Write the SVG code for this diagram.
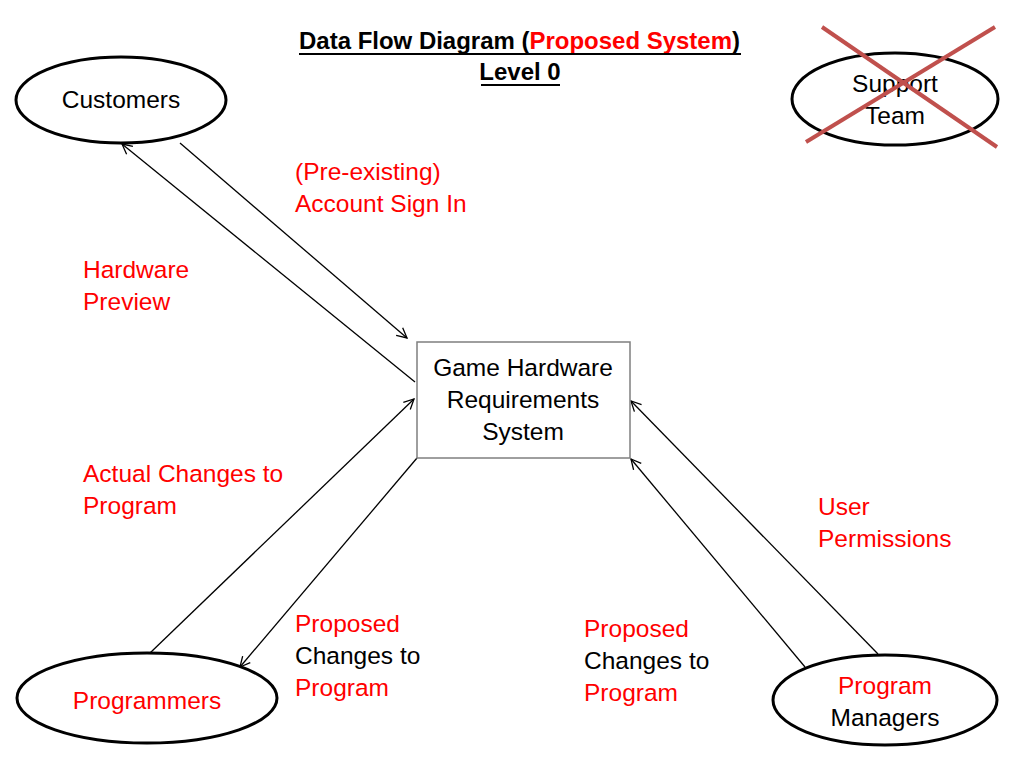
<svg xmlns="http://www.w3.org/2000/svg" width="1021" height="768" viewBox="0 0 1021 768">
<style>
.t{font-family:"Liberation Sans",Arial,sans-serif;font-size:24.5px;fill:#000}
.r{fill:#ff0000}
.c{text-anchor:middle}
.b{font-weight:bold;font-size:24px}
.ell{fill:#fff;stroke:#000;stroke-width:3}
.conn{stroke:#000;stroke-width:1.3;fill:none;marker-end:url(#ah)}
</style>
<defs>
<marker id="ah" viewBox="0 0 12 12" refX="11" refY="6" markerWidth="12" markerHeight="12" markerUnits="userSpaceOnUse" orient="auto">
<path d="M1,1 L11,6 L1,11" fill="none" stroke="#000" stroke-width="1.3"/>
</marker>
</defs>
<rect width="1021" height="768" fill="#fff"/>
<g id="title">
<text class="t b" x="299" y="49" textLength="441" lengthAdjust="spacingAndGlyphs"><tspan>Data Flow Diagram (</tspan><tspan class="r">Proposed System</tspan><tspan>)</tspan></text>
<line x1="299" y1="54" x2="741" y2="54" stroke="#000" stroke-width="2"/>
<text class="t b c" x="520" y="80">Level 0</text>
<line x1="481" y1="85" x2="560" y2="85" stroke="#000" stroke-width="2"/>
</g>
<g id="connectors">
<line class="conn" x1="180" y1="143" x2="407" y2="338"/>
<line class="conn" x1="415" y1="382" x2="122" y2="144"/>
<line class="conn" x1="150" y1="653" x2="414" y2="399"/>
<line class="conn" x1="417" y1="458" x2="240" y2="667"/>
<line class="conn" x1="878" y1="654" x2="631" y2="401"/>
<line class="conn" x1="805" y1="667" x2="631" y2="459"/>
</g>
<g id="labels">
<text class="t r" x="295" y="180">(Pre-existing)</text>
<text class="t r" x="295" y="212">Account Sign In</text>
<text class="t r" x="83" y="278">Hardware</text>
<text class="t r" x="83" y="310">Preview</text>
<text class="t r" x="83" y="482">Actual Changes to</text>
<text class="t r" x="83" y="514">Program</text>
<text class="t r" x="295" y="632">Proposed</text>
<text class="t" x="295" y="664">Changes to</text>
<text class="t r" x="295" y="696">Program</text>
<text class="t r" x="584" y="637">Proposed</text>
<text class="t" x="584" y="669">Changes to</text>
<text class="t r" x="584" y="701">Program</text>
<text class="t r" x="818" y="515">User</text>
<text class="t r" x="818" y="547">Permissions</text>
</g>
<g id="customers">
<ellipse class="ell" cx="121" cy="100" rx="105" ry="43"/>
<text class="t c" x="121" y="108">Customers</text>
</g>
<g id="support-team">
<ellipse class="ell" cx="895" cy="99" rx="103" ry="46"/>
<text class="t c" x="895" y="92">Support</text>
<text class="t c" x="895" y="124">Team</text>
<line x1="822" y1="27" x2="997" y2="147" stroke="#c0504d" stroke-width="4"/>
<line x1="995" y1="27" x2="806" y2="142" stroke="#c0504d" stroke-width="4"/>
</g>
<g id="system">
<rect x="417" y="342" width="213" height="116" fill="#fff" stroke="#7f7f7f" stroke-width="1.5"/>
<text class="t c" x="523" y="376">Game Hardware</text>
<text class="t c" x="523" y="408">Requirements</text>
<text class="t c" x="523" y="440">System</text>
</g>
<g id="programmers">
<ellipse class="ell" cx="147" cy="698" rx="130" ry="45"/>
<text class="t r c" x="147" y="709">Programmers</text>
</g>
<g id="program-managers">
<ellipse class="ell" cx="885" cy="700" rx="112" ry="45"/>
<text class="t r c" x="885" y="694">Program</text>
<text class="t c" x="885" y="726">Managers</text>
</g>
</svg>
